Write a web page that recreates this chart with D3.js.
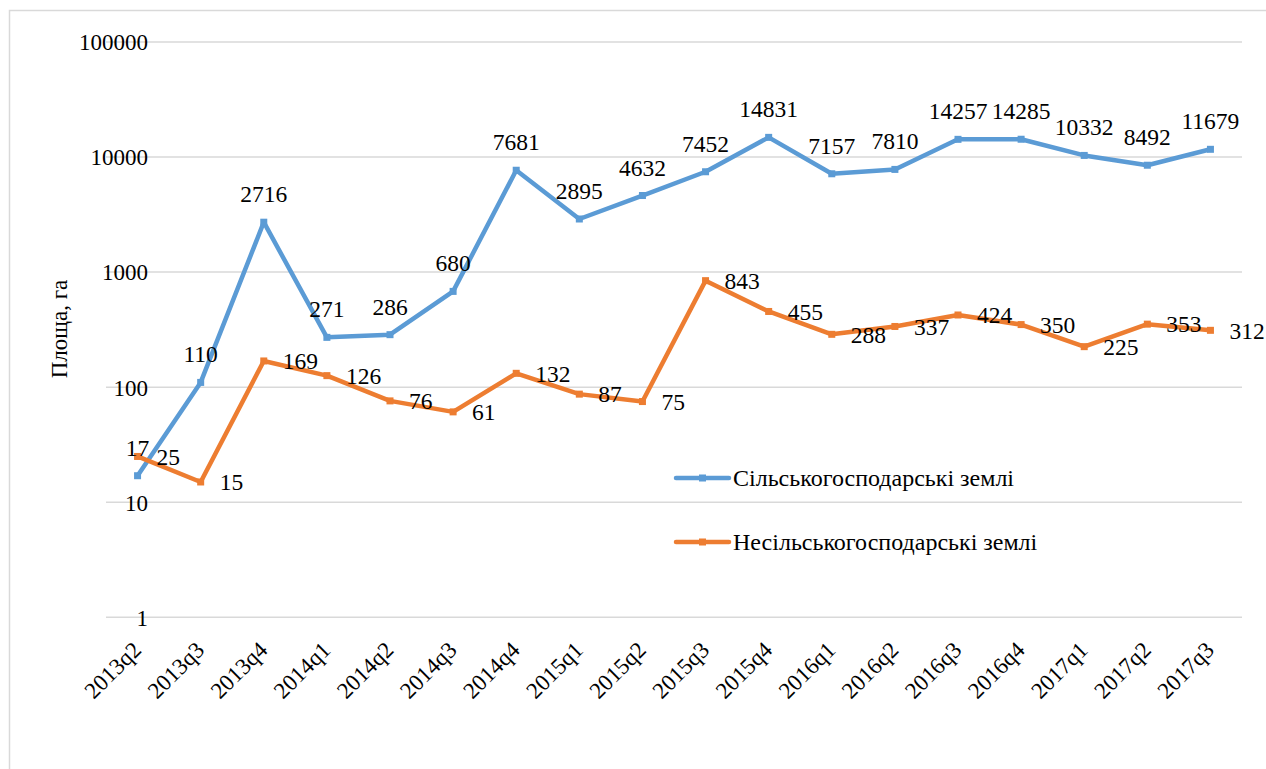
<!DOCTYPE html>
<html>
<head>
<meta charset="utf-8">
<script src="https://cdn.jsdelivr.net/npm/d3@7"></script>
<style>
  html, body { margin: 0; padding: 0; background: #fff; }
  svg { display: block; }
  text { font-family: "Liberation Serif", "Times New Roman", Times, serif; fill: #000; }
</style>
</head>
<body>
<svg id="chart" width="1266" height="769"></svg>
<script>
const categories = ["2013q2","2013q3","2013q4","2014q1","2014q2","2014q3","2014q4","2015q1","2015q2","2015q3","2015q4","2016q1","2016q2","2016q3","2016q4","2017q1","2017q2","2017q3"];
const agricultural = [17,110,2716,271,286,680,7681,2895,4632,7452,14831,7157,7810,14257,14285,10332,8492,11679];
const nonAgricultural = [25,15,169,126,76,61,132,87,75,843,455,288,337,424,350,225,353,312];
const yTicks = [1,10,100,1000,10000,100000];
const seriesNames = ["Сільськогосподарські землі", "Несільськогосподарські землі"];
const seriesColors = ["#5B9BD5", "#ED7D31"];
const yTitle = "Площа, га";

const svg = d3.select("#chart");
const plot = { left: 106, right: 1242, top: 42, bottom: 617.3 };
const FS = 23;

// outer border
svg.append("rect").attr("x", 9.5).attr("y", 10.5).attr("width", 1280).attr("height", 800)
  .attr("fill", "#fff").attr("stroke", "#D9D9D9").attr("stroke-width", 1.5);

const x = d3.scaleBand().domain(categories).range([plot.left, plot.right]).padding(0);
const cx = d => x(d) + x.bandwidth() / 2;
const y = d3.scaleLog().domain([1, 100000]).range([plot.bottom, plot.top]);

// gridlines
svg.append("g").selectAll("line").data(yTicks).join("line")
  .attr("x1", plot.left).attr("x2", plot.right)
  .attr("y1", d => y(d)).attr("y2", d => y(d))
  .attr("stroke", "#D9D9D9").attr("stroke-width", 1.5);

// y axis labels
const yAxis = d3.axisLeft(y).tickValues(yTicks).tickFormat(d3.format("d")).tickSize(0).tickPadding(0);
const yg = svg.append("g").attr("transform", `translate(148,0)`).call(yAxis);
yg.attr("font-family", null).attr("font-size", null);
yg.select(".domain").remove();
yg.selectAll("text").attr("font-size", FS).attr("fill", "#000").attr("dy", "0.34em");

// x axis labels
const xAxis = d3.axisBottom(x).tickSize(0).tickPadding(0);
const xg = svg.append("g").attr("transform", `translate(0,${plot.bottom})`).call(xAxis);
xg.attr("font-family", null).attr("font-size", null);
xg.select(".domain").remove();
xg.selectAll(".tick text")
  .attr("font-size", FS).attr("fill", "#000")
  .attr("text-anchor", "end")
  .attr("y", 0).attr("dy", 0)
  .attr("transform", "translate(5,34) rotate(-45)");

// y title
svg.append("text").attr("transform", "translate(67,329) rotate(-90)")
  .attr("text-anchor", "middle").attr("font-size", FS).text(yTitle);

// lines and markers
const seriesData = [agricultural, nonAgricultural];
const line = d3.line().x((d, i) => cx(categories[i])).y(d => y(d));
seriesData.forEach((vals, s) => {
  svg.append("path").datum(vals).attr("d", line)
    .attr("fill", "none").attr("stroke", seriesColors[s]).attr("stroke-width", 4.5)
    .attr("stroke-linejoin", "round");
  svg.append("g").selectAll("rect").data(vals).join("rect")
    .attr("x", (d, i) => cx(categories[i]) - 3.5).attr("y", d => y(d) - 3.5)
    .attr("width", 7).attr("height", 7).attr("fill", seriesColors[s]);
});

// data labels: first series above, second series right
svg.append("g").selectAll("text").data(agricultural).join("text")
  .attr("x", (d, i) => cx(categories[i])).attr("y", d => y(d) - 20)
  .attr("text-anchor", "middle").attr("font-size", 23.5).text(d => d);
svg.append("g").selectAll("text").data(nonAgricultural).join("text")
  .attr("x", (d, i) => cx(categories[i]) + 19).attr("y", d => y(d)).attr("dy", "0.35em")
  .attr("text-anchor", "start").attr("font-size", 23.5).text(d => d);

// legend
const legY = [478, 542];
seriesNames.forEach((name, s) => {
  const g = svg.append("g");
  g.append("line").attr("x1", 676).attr("x2", 729).attr("y1", legY[s]).attr("y2", legY[s])
    .attr("stroke", seriesColors[s]).attr("stroke-width", 4.5).attr("stroke-linecap", "round");
  g.append("rect").attr("x", 699).attr("y", legY[s] - 3.5).attr("width", 7).attr("height", 7).attr("fill", seriesColors[s]);
  g.append("text").attr("x", 733).attr("y", legY[s]).attr("dy", "0.35em").attr("font-size", 24).text(name);
});
</script>
</body>
</html>
